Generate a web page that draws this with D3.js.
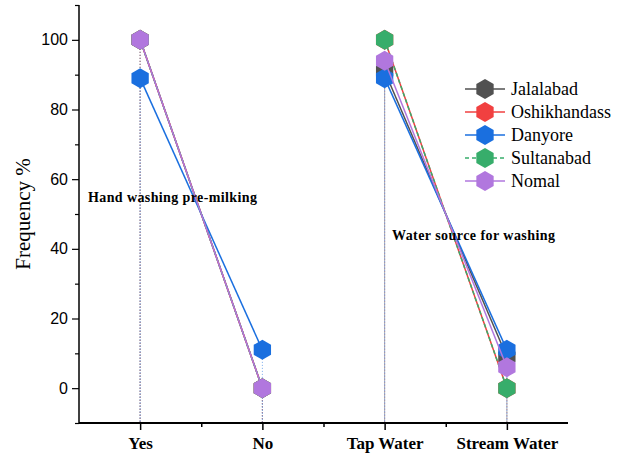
<!DOCTYPE html>
<html>
<head>
<meta charset="utf-8">
<script src="https://cdn.jsdelivr.net/npm/d3@7"></script>
<style>
  body { margin: 0; background: #fff; }
  svg { display: block; }
  .serif { font-family: "Liberation Serif", "Times New Roman", serif; }
  .sans { font-family: "Liberation Sans", Arial, sans-serif; }
</style>
</head>
<body>
<svg id="chart" width="626" height="454"></svg>
<script>
// categories on the x axis, two groups of two
var categories = ["Yes", "No", "Tap Water", "Stream Water"];
var groups = [[0, 1], [2, 3]];
var groupLabels = ["Hand washing pre-milking", "Water source for washing"];

// series (frequency %)
var seriesNames = ["Jalalabad", "Oshikhandass", "Danyore", "Sultanabad", "Nomal"];
var jalalabad = [100, 0, 91, 9];
var oshikhandass = [100, 0, 100, 0];
var danyore = [89, 11, 89, 11];
var sultanabad = [100, 0, 100, 0];
var nomal = [100, 0, 94, 6];
var seriesValues = [jalalabad, oshikhandass, danyore, sultanabad, nomal];
var seriesColors = ["#515151", "#f14040", "#1a6fdf", "#37ad6b", "#b177de"];
var seriesDash = [null, null, null, "4,3", null];

var yTicks = [0, 20, 40, 60, 80, 100];
var yMinor = [-10, 10, 30, 50, 70, 90, 110];

var svg = d3.select("#chart");

var margin = {left: 79, right: 58, top: 5, bottom: 30};
var W = 626, H = 454;

// x is a linear index scale so half-steps give the minor ticks
var x = d3.scaleLinear().domain([-0.5, 3.5]).range([margin.left, W - margin.right]);
var y = d3.scaleLinear().domain([-10, 110]).range([H - margin.bottom - 1, margin.top]);

// drop lines (dotted)
seriesValues.forEach(function (vals, s) {
    svg.append("g").selectAll("line").data(vals).join("line")
        .attr("x1", (d, i) => x(i)).attr("x2", (d, i) => x(i))
        .attr("y1", d => y(d)).attr("y2", y(-10))
        .attr("stroke", seriesColors[s])
        .attr("stroke-opacity", 0.6)
        .attr("stroke-width", 1)
        .attr("stroke-dasharray", "1,2");
});

// hexagon marker, pointy top
var hex = d3.range(6).map(function (k) {
    var a = Math.PI / 3 * k - Math.PI / 2;
    return [10 * Math.cos(a), 10 * Math.sin(a)];
});
var hexPath = "M" + hex.map(p => p.join(",")).join("L") + "Z";

var line = d3.line().x(d => x(d.i)).y(d => y(d.v));

seriesValues.forEach(function (vals, s) {
    var g = svg.append("g");
    groups.forEach(function (grp) {
        g.append("path")
            .datum(grp.map(i => ({i: i, v: vals[i]})))
            .attr("d", line)
            .attr("fill", "none")
            .attr("stroke", seriesColors[s])
            .attr("stroke-width", 1.5)
            .attr("stroke-dasharray", seriesDash[s]);
    });
    g.selectAll("path.m").data(vals).join("path")
        .attr("class", "m")
        .attr("d", hexPath)
        .attr("transform", (d, i) => "translate(" + x(i) + "," + y(d) + ")")
        .attr("fill", seriesColors[s]);
});

// y axis
var yAxis = d3.axisLeft(y).tickValues(yTicks).tickSize(7).tickPadding(4);
var gY = svg.append("g").attr("transform", "translate(" + margin.left + ",0)").call(yAxis);
gY.attr("font-family", null);
gY.select(".domain").attr("stroke-width", 1.5).attr("d", "M0," + y(110) + "V" + y(-10));
gY.selectAll(".tick line").attr("stroke-width", 1.2);
gY.selectAll(".tick text").attr("class", "sans")
    .attr("font-size", 16).attr("fill", "#000");
svg.append("g").attr("transform", "translate(" + margin.left + ",0)")
    .call(d3.axisLeft(y).tickValues(yMinor).tickSize(4).tickFormat(""))
    .call(g => g.select(".domain").remove())
    .selectAll(".tick line").attr("stroke-width", 1.2);

// x axis
var xAxis = d3.axisBottom(x).tickValues([0, 1, 2, 3]).tickSize(7).tickPadding(7)
    .tickFormat(i => categories[i]);
var gX = svg.append("g").attr("transform", "translate(0," + y(-10) + ")").call(xAxis);
gX.attr("font-family", null);
gX.select(".domain").attr("stroke-width", 2).attr("d", "M" + x(-0.5) + ",0H" + x(3.5));
gX.selectAll(".tick line").attr("stroke-width", 1.5);
gX.selectAll(".tick text").attr("class", "serif")
    .attr("font-weight", "bold").attr("font-size", 17).attr("fill", "#000");
svg.append("g").attr("transform", "translate(0," + y(-10) + ")")
    .call(d3.axisBottom(x).tickValues([0.5, 1.5, 2.5]).tickSize(4).tickFormat(""))
    .call(g => g.select(".domain").remove())
    .selectAll(".tick line").attr("stroke-width", 1.5);

// y title
svg.append("text")
    .attr("class", "serif")
    .attr("transform", "translate(30," + y(50) + ") rotate(-90)")
    .attr("text-anchor", "middle")
    .attr("font-size", 21)
    .text("Frequency %");

// group annotations
svg.append("text").attr("class", "serif").attr("x", 88).attr("y", 202)
    .attr("font-weight", "bold").attr("font-size", 14)
    .attr("textLength", 169).attr("lengthAdjust", "spacing")
    .text(groupLabels[0]);
svg.append("text").attr("class", "serif").attr("x", 392).attr("y", 240)
    .attr("font-weight", "bold").attr("font-size", 14)
    .attr("textLength", 163).attr("lengthAdjust", "spacing")
    .text(groupLabels[1]);

// legend
var legend = svg.append("g").attr("transform", "translate(465,89)");
seriesNames.forEach(function (name, s) {
    var row = legend.append("g").attr("transform", "translate(0," + s * 23 + ")");
    row.append("line").attr("x1", 0).attr("x2", 40)
        .attr("stroke", seriesColors[s]).attr("stroke-width", 1.5)
        .attr("stroke-dasharray", seriesDash[s]);
    row.append("path").attr("d", hexPath).attr("transform", "translate(20,0)")
        .attr("fill", seriesColors[s]);
    row.append("text").attr("class", "serif").attr("x", 46).attr("y", 6)
        .attr("font-size", 18)
        .text(name);
});
</script>
</body>
</html>
